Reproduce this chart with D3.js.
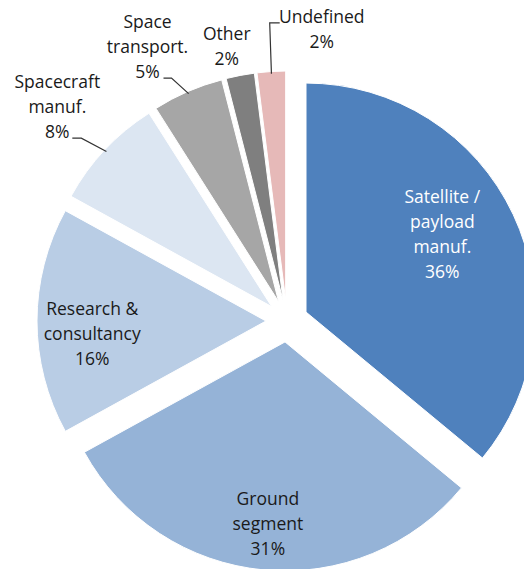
<!DOCTYPE html>
<html>
<head>
<meta charset="utf-8">
<script src="https://cdn.jsdelivr.net/npm/d3@7"></script>
<style>
  body { margin: 0; background: #fff; }
  text { font-family: "Open Sans", sans-serif; font-size: 17.5px; }
</style>
</head>
<body>
<script>
// chart data
var categories = ["Satellite /\npayload\nmanuf.", "Ground\nsegment", "Research &\nconsultancy",
                  "Spacecraft\nmanuf.", "Space\ntransport.", "Other", "Undefined"];
var values = [36, 31, 16, 8, 5, 2, 2];
var colors = ["#4F81BD", "#95B3D7", "#B9CDE5", "#DCE6F2", "#A6A6A6", "#7F7F7F", "#E6B9B8"];

// label layout: rf = radius factor, da = angle shift (deg)
// inside labels are centred, outside labels hang from a leader elbow
var labelLayout = [
  {inside: true, rf: 0.684, da: -4.3, fill: "#fff"},
  {inside: true, rf: 0.797, da: 0},
  {inside: true, rf: 0.761, da: -4.3},
  {rf: 1.11, da: -1.7, hx: -9, tx: -15, line: "last"},
  {rf: 1.083, da: -2.2, hx: -8, tx: -16, line: "last"},
  {rf: 1.136, da: -1.7, none: true},
  {rf: 1.212, da: 0.3, hx: 10, tx: 42, line: "first"}
];

var width = 524, height = 569,
    cx = 287, cy = 321,
    radius = 229,
    explode = 21,
    lineH = 25;

var svg = d3.select("body").append("svg")
    .attr("width", width)
    .attr("height", height);

var g = svg.append("g")
    .attr("transform", "translate(" + cx + "," + cy + ")");

var pie = d3.pie().sort(null).value(function(d) { return d.value; });
var arc = d3.arc().innerRadius(0).outerRadius(radius);

var data = values.map(function(v, i) {
  return {name: categories[i], value: v, color: colors[i], lay: labelLayout[i]};
});

var arcs = pie(data);

function polar(a, r) { return [Math.sin(a) * r, -Math.cos(a) * r]; }
function mid(d) { return (d.startAngle + d.endAngle) / 2; }

var slice = g.selectAll(".slice")
    .data(arcs)
    .enter().append("g")
    .attr("class", "slice")
    .attr("transform", function(d) {
      var p = polar(mid(d), explode);
      return "translate(" + p[0] + "," + p[1] + ")";
    });

slice.append("path")
    .attr("d", arc)
    .attr("fill", function(d) { return d.data.color; })
    .attr("stroke", "#fff")
    .attr("stroke-width", 1);

// labels
slice.each(function(d) {
  var s = d3.select(this),
      lay = d.data.lay,
      lines = d.data.name.split("\n").concat([d.data.value + "%"]),
      a = mid(d) + lay.da * Math.PI / 180,
      p = polar(a, lay.rf * radius),
      x, y0;

  if (lay.inside || lay.none) {
    // centre the block on p
    x = p[0];
    y0 = p[1] - ((lines.length - 1) * lineH) / 2 + 6;
  } else {
    var edge = polar(mid(d), radius * 0.99),
        endX = p[0] + lay.hx;
    s.append("polyline")
        .attr("points", [edge, p, [endX, p[1]]].map(function(q) { return q.join(","); }).join(" "))
        .attr("fill", "none")
        .attr("stroke", "#333")
        .attr("stroke-width", 1.2);
    x = endX + lay.tx;
    y0 = lay.line === "last" ? p[1] - (lines.length - 1) * lineH : p[1];
  }

  var t = s.append("text")
      .attr("text-anchor", "middle")
      .attr("fill", lay.fill || "#1a1a1a");
  lines.forEach(function(l, i) {
    t.append("tspan").attr("x", x).attr("y", y0 + i * lineH).text(l);
  });
});
</script>
</body>
</html>
